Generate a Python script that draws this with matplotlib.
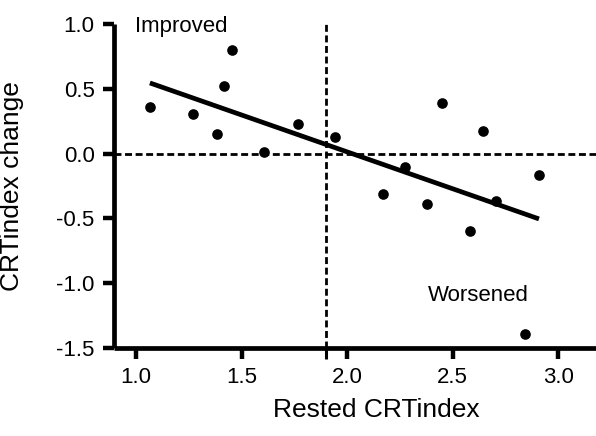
import numpy as np
import matplotlib.pyplot as plt

plt.rcParams['font.family'] = ['Liberation Sans', 'DejaVu Sans']

# data
rested = [1.066, 1.271, 1.382, 1.418, 1.454, 1.606, 1.767, 1.942, 2.447,
          2.641, 2.273, 2.169, 2.378, 2.704, 2.908, 2.581, 2.843]
change = [0.362, 0.303, 0.149, 0.522, 0.797, 0.015, 0.226, 0.126, 0.393,
          0.172, -0.106, -0.309, -0.387, -0.368, -0.167, -0.597, -1.390]
cutoff = 1.9
x_ticks = [1.0, 1.5, 2.0, 2.5, 3.0]
y_ticks = [1.0, 0.5, 0.0, -0.5, -1.0, -1.5]

fig = plt.figure(figsize=(5.96, 4.36), dpi=100)
ax = fig.add_axes([114 / 596, 1 - 348 / 436, 482 / 596, 324 / 436])

# linear fit
slope, intercept = np.polyfit(rested, change, 1)
fit_x = np.array([min(rested), max(rested)])
ax.plot(fit_x, slope * fit_x + intercept, color='black', lw=3.4, solid_capstyle='butt')

ax.scatter(rested, change, s=44, color='black', zorder=3)

ax.axhline(0, color='black', lw=2, dashes=(2.5, 1.3))
ax.axvline(cutoff, color='black', lw=2, dashes=(2.5, 1.3))

ax.text(0.995, 0.94, 'Improved', fontsize=16)
ax.text(2.382, -1.135, 'Worsened', fontsize=16)

ax.set_xlim(0.896, 3.178)
ax.set_ylim(-1.5, 1.0)
ax.set_xticks(x_ticks)
ax.set_xticklabels([f'{v:.1f}' for v in x_ticks])
ax.set_xticks([cutoff], minor=True)
ax.set_yticks(y_ticks)
ax.set_yticklabels([f'{v:.1f}' for v in y_ticks])

for side in ('top', 'right'):
    ax.spines[side].set_visible(False)
for side in ('left', 'bottom'):
    ax.spines[side].set_linewidth(3.4)
    ax.spines[side].set_capstyle('butt')

ax.tick_params(which='both', length=8, width=3.2, labelsize=16, pad=6)
ax.tick_params(axis='x', which='minor', width=2.2)

ax.set_xlabel('Rested CRTindex', fontsize=19)
ax.set_ylabel('CRTindex change', fontsize=19)
ax.xaxis.set_label_coords(0.544, -0.155)
ax.yaxis.set_label_coords(-0.187, 0.5)

fig.savefig('out.png', dpi=100)
